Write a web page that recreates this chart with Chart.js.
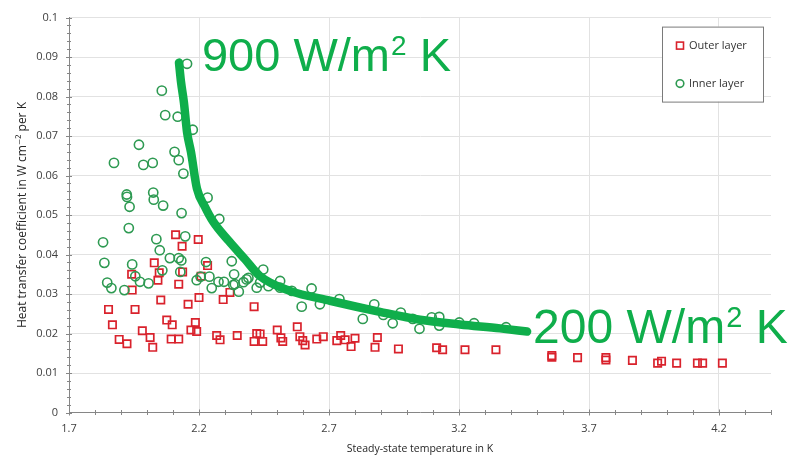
<!DOCTYPE html>
<html>
<head>
<meta charset="utf-8">
<script src="https://cdn.jsdelivr.net/npm/chart.js@4.4.1/dist/chart.umd.min.js"></script>
<style>
  html, body { margin: 0; padding: 0; background: #fff; }
</style>
</head>
<body>
<canvas id="chart" width="798" height="456"></canvas>
<script>
// axis ticks
const xTicks = [1.7, 2.2, 2.7, 3.2, 3.7, 4.2];
const xTickLabels = ['1.7', '2.2', '2.7', '3.2', '3.7', '4.2'];
const yTicks = [0, 0.01, 0.02, 0.03, 0.04, 0.05, 0.06, 0.07, 0.08, 0.09, 0.1];
const yTickLabels = ['0', '0.01', '0.02', '0.03', '0.04', '0.05', '0.06', '0.07', '0.08', '0.09', '0.1'];

const seriesLabels = ['Outer layer', 'Inner layer'];
const fitLabels = ['900 W/m² K', '200 W/m² K'];

// outer layer (red squares)
const outerX = [1.852, 1.867, 1.893, 1.923, 1.941, 1.943, 1.954, 1.982, 2.012, 2.022, 2.028, 2.042, 2.047, 2.053, 2.076,
  2.093, 2.097, 2.110, 2.122, 2.122, 2.135, 2.137, 2.158, 2.169, 2.186, 2.191, 2.197, 2.200, 2.208, 2.233,
  2.268, 2.281, 2.293, 2.319, 2.347, 2.412, 2.412, 2.422, 2.435, 2.445, 2.501, 2.515, 2.522, 2.578, 2.588,
  2.599, 2.608, 2.653, 2.678, 2.730, 2.745, 2.762, 2.785, 2.800, 2.877, 2.886, 2.967, 3.114, 3.137, 3.223,
  3.342, 3.557, 3.557, 3.656, 3.765, 3.765, 3.867, 3.964, 3.979, 4.037, 4.117, 4.137, 4.213];
const outerY = [0.0261, 0.0222, 0.0185, 0.0174, 0.0350, 0.0310, 0.0261, 0.0207, 0.0190, 0.0165, 0.0379, 0.0335, 0.0354, 0.0285, 0.0234,
  0.0186, 0.0222, 0.0450, 0.0325, 0.0186, 0.0421, 0.0356, 0.0274, 0.0209, 0.0228, 0.0205, 0.0438, 0.0291, 0.0345, 0.0372,
  0.0195, 0.0184, 0.0286, 0.0304, 0.0195, 0.0268, 0.0180, 0.0200, 0.0199, 0.0180, 0.0209, 0.0189, 0.0180, 0.0217, 0.0192,
  0.0182, 0.0171, 0.0186, 0.0192, 0.0182, 0.0195, 0.0184, 0.0167, 0.0188, 0.0165, 0.0190, 0.0161, 0.0164, 0.0159, 0.0159,
  0.0159, 0.0144, 0.0140, 0.0139, 0.0139, 0.0133, 0.0132, 0.0125, 0.0130, 0.0125, 0.0125, 0.0125, 0.0125];

// inner layer (green circles)
const innerX = [1.831, 1.836, 1.847, 1.863, 1.873, 1.913, 1.922, 1.923, 1.930, 1.933, 1.943, 1.955, 1.969, 1.973, 1.986,
  2.006, 2.022, 2.024, 2.026, 2.036, 2.049, 2.057, 2.059, 2.062, 2.070, 2.088, 2.106, 2.118, 2.122, 2.122,
  2.128, 2.132, 2.133, 2.140, 2.147, 2.154, 2.176, 2.191, 2.206, 2.227, 2.233, 2.240, 2.249, 2.275, 2.278,
  2.296, 2.326, 2.332, 2.335, 2.338, 2.353, 2.371, 2.383, 2.390, 2.422, 2.435, 2.447, 2.467, 2.512, 2.512,
  2.557, 2.595, 2.633, 2.665, 2.740, 2.830, 2.874, 2.909, 2.945, 2.976, 3.022, 3.048, 3.095, 3.124, 3.124,
  3.201, 3.258, 3.381];
const innerY = [0.0431, 0.0379, 0.0329, 0.0315, 0.0632, 0.0310, 0.0552, 0.0546, 0.0467, 0.0521, 0.0375, 0.0345, 0.0678, 0.0331, 0.0627,
  0.0327, 0.0632, 0.0557, 0.0539, 0.0439, 0.0411, 0.0815, 0.0360, 0.0524, 0.0753, 0.0391, 0.0660, 0.0749, 0.0639, 0.0391,
  0.0356, 0.0385, 0.0505, 0.0605, 0.0446, 0.0883, 0.0716, 0.0335, 0.0344, 0.0381, 0.0544, 0.0344, 0.0315, 0.0331, 0.0490,
  0.0331, 0.0383, 0.0323, 0.0350, 0.0325, 0.0306, 0.0330, 0.0337, 0.0341, 0.0316, 0.0329, 0.0362, 0.0320, 0.0333, 0.0316,
  0.0308, 0.0268, 0.0314, 0.0274, 0.0287, 0.0237, 0.0274, 0.0247, 0.0226, 0.0253, 0.0237, 0.0212, 0.0241, 0.0242, 0.0220,
  0.0228, 0.0226, 0.0216];

// hand-drawn green guide curve
const fitX = [2.123, 2.131, 2.142, 2.154, 2.169, 2.192, 2.223, 2.254, 2.315, 2.377, 2.435, 2.550, 2.704, 2.896, 3.050, 3.204, 3.358, 3.462];
const fitY = [0.0886, 0.0836, 0.0785, 0.0710, 0.0660, 0.0567, 0.0521, 0.0484, 0.0434, 0.0388, 0.0345, 0.0308, 0.0283, 0.0255, 0.0235, 0.0223, 0.0213, 0.0205];

const RED = '#d9222c';
const GREEN_PT = '#2e9a52';
const GREEN = '#0fae4b';
const AXIS = '#868686';
const FONT = '"Open Sans", "DejaVu Sans", sans-serif';

const toPoints = (xs, ys) => xs.map((x, i) => ({ x, y: ys[i] }));

// minor + major tick marks crossing the axis lines
const tickMarks = {
  id: 'tickMarks',
  afterDraw(chart) {
    const { ctx, chartArea: a, scales: { x, y } } = chart;
    ctx.save();
    ctx.strokeStyle = AXIS;
    ctx.lineWidth = 1;
    ctx.beginPath();
    for (let i = 0; i <= 27; i++) {
      const px = Math.round(x.getPixelForValue(1.7 + i * 0.1)) + 0.5;
      const len = i % 5 === 0 ? 3 : 2.5;
      ctx.moveTo(px, a.bottom - len);
      ctx.lineTo(px, a.bottom + len);
    }
    for (let i = 0; i <= 50; i++) {
      const py = Math.round(y.getPixelForValue(i * 0.002)) + 0.5;
      const len = i % 5 === 0 ? 3 : 2;
      ctx.moveTo(a.left - len, py);
      ctx.lineTo(a.left + len, py);
    }
    ctx.stroke();
    ctx.restore();
  }
};

// boxed legend inside the plot, top right
const boxLegend = {
  id: 'boxLegend',
  afterDatasetsDraw(chart) {
    const { ctx, chartArea: a } = chart;
    const w = 101, h = 75;
    const left = a.right - 8 - w, top = a.top + 9;
    ctx.save();
    ctx.fillStyle = '#fff';
    ctx.strokeStyle = '#7a7a7a';
    ctx.lineWidth = 1;
    ctx.fillRect(left, top, w, h);
    ctx.strokeRect(left + 0.5, top + 0.5, w, h);
    ctx.font = '11px ' + FONT;
    ctx.textBaseline = 'middle';
    ctx.fillStyle = '#333';
    [0, 1].forEach(i => {
      const ds = chart.data.datasets[i];
      const cy = top + 19 + i * 38;
      ctx.lineWidth = 1.6;
      ctx.strokeStyle = ds.borderColor;
      if (ds.pointStyle === 'rect') {
        ctx.strokeRect(left + 14.5, cy - 3.5, 7, 7);
      } else {
        ctx.beginPath();
        ctx.arc(left + 18, cy, 3.8, 0, Math.PI * 2);
        ctx.stroke();
      }
      ctx.fillText(ds.label, left + 27, cy);
    });
    ctx.restore();
  }
};

// big green annotations at both ends of the guide curve
const fitText = {
  id: 'fitText',
  afterDatasetsDraw(chart) {
    const { ctx, scales: { x, y } } = chart;
    const ends = [
      { i: 0, dx: 23, dy: 8, size: 47 },
      { i: fitX.length - 1, dx: 6, dy: 11, size: 48 }
    ];
    ctx.save();
    ctx.fillStyle = GREEN;
    ctx.textBaseline = 'alphabetic';
    ends.forEach((e, k) => {
      const parts = fitLabels[k].split('²');
      const big = e.size + 'px "Liberation Sans", Arial, sans-serif';
      let px = x.getPixelForValue(fitX[e.i]) + e.dx;
      const py = y.getPixelForValue(fitY[e.i]) + e.dy;
      ctx.font = big;
      ctx.fillText(parts[0], px, py);
      px += ctx.measureText(parts[0]).width + 1;
      ctx.font = Math.round(e.size * 0.6) + 'px "Liberation Sans", Arial, sans-serif';
      ctx.fillText('2', px, py - 16);
      px += ctx.measureText('2').width;
      ctx.font = big;
      ctx.fillText(parts[1], px, py);
    });
    ctx.restore();
  }
};

new Chart(document.getElementById('chart'), {
  type: 'scatter',
  data: {
    datasets: [
      {
        label: seriesLabels[0],
        data: toPoints(outerX, outerY),
        pointStyle: 'rect',
        pointRadius: 5.2,
        pointHoverRadius: 5.2,
        borderColor: RED,
        backgroundColor: 'rgba(0,0,0,0)',
        borderWidth: 1.7,
        order: 2
      },
      {
        label: seriesLabels[1],
        data: toPoints(innerX, innerY),
        pointStyle: 'circle',
        pointRadius: 4.6,
        pointHoverRadius: 4.6,
        borderColor: GREEN_PT,
        backgroundColor: 'rgba(0,0,0,0)',
        borderWidth: 1.6,
        order: 1
      },
      {
        label: 'fit',
        data: toPoints(fitX, fitY),
        showLine: true,
        pointRadius: 0,
        borderColor: GREEN,
        borderWidth: 8.5,
        borderCapStyle: 'round',
        borderJoinStyle: 'round',
        cubicInterpolationMode: 'monotone',
        order: 0
      }
    ]
  },
  options: {
    responsive: false,
    animation: false,
    layout: { padding: { top: 15, right: 27, left: 0, bottom: 0 } },
    plugins: {
      legend: { display: false },
      tooltip: { enabled: false }
    },
    scales: {
      x: {
        type: 'linear',
        min: 1.7,
        max: 4.4,
        afterBuildTicks(scale) {
          scale.ticks = xTicks.map(v => ({ value: v }));
        },
        afterFit(scale) {
          scale.height = 43.5;
        },
        ticks: {
          autoSkip: false,
          maxRotation: 0,
          padding: 10,
          color: '#404040',
          font: { family: FONT, size: 11 },
          callback(value, i) {
            return xTickLabels[i];
          }
        },
        grid: { color: '#e2e2e2', drawTicks: false },
        border: { color: AXIS },
        title: {
          display: true,
          text: 'Steady-state temperature in K',
          color: '#262626',
          font: { family: FONT, size: 10.5 },
          padding: { top: 0, bottom: 1 }
        }
      },
      y: {
        min: 0,
        max: 0.1,
        afterBuildTicks(scale) {
          scale.ticks = yTicks.map(v => ({ value: v }));
        },
        afterFit(scale) {
          scale.width = 69;
        },
        ticks: {
          padding: 11,
          color: '#404040',
          font: { family: FONT, size: 11 },
          callback(value, i) {
            return yTickLabels[i];
          }
        },
        grid: { color: '#e2e2e2', drawTicks: false },
        border: { color: AXIS },
        title: {
          display: true,
          text: 'Heat transfer coefficient in W cm⁻² per K',
          color: '#262626',
          font: { family: FONT, size: 12 },
          padding: { top: 15, bottom: 0 }
        }
      }
    }
  },
  plugins: [tickMarks, boxLegend, fitText]
});
</script>
</body>
</html>
